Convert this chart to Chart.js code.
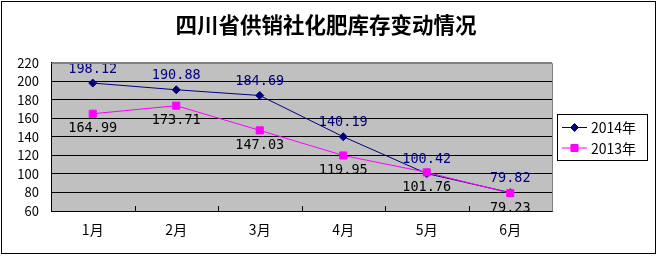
<!DOCTYPE html>
<html>
<head>
<meta charset="utf-8">
<script src="https://cdn.jsdelivr.net/npm/chart.js@4/dist/chart.umd.min.js"></script>
<style>
  html, body { margin: 0; padding: 0; background: #fff; }
  #wrap { width: 660px; height: 257px; position: relative; }
</style>
</head>
<body>
<div id="wrap"><canvas id="c" width="660" height="257"></canvas></div>
<script>
const titleText = '四川省供销社化肥库存变动情况';
const categories = ['1月', '2月', '3月', '4月', '5月', '6月'];
const series2014 = [198.12, 190.88, 184.69, 140.19, 100.42, 79.82];
const series2013 = [164.99, 173.71, 147.03, 119.95, 101.76, 79.23];
const seriesNames = ['2014年', '2013年'];
const yMin = 60, yMax = 220, yStep = 20;

const C2014 = '#000080';
const C2013 = '#FF00FF';

const framePlugin = {
  id: 'frame',
  beforeDraw(chart) {
    const { ctx, chartArea: a } = chart;
    ctx.save();
    ctx.fillStyle = '#fff';
    ctx.fillRect(0, 0, chart.width, chart.height);
    ctx.fillStyle = '#C0C0C0';
    ctx.fillRect(a.left, a.top, a.right - a.left, a.bottom - a.top);
    ctx.restore();
  },
  afterDraw(chart) {
    const { ctx, chartArea: a } = chart;
    ctx.save();
    // outer border
    ctx.strokeStyle = '#000';
    ctx.lineWidth = 1;
    ctx.strokeRect(1.5, 1.5, 654, 252);
    // plot top/right border (gray)
    ctx.strokeStyle = '#808080';
    ctx.beginPath();
    ctx.moveTo(Math.round(a.left) + 0.5, Math.round(a.top) + 0.5);
    ctx.lineTo(Math.round(a.right) + 0.5, Math.round(a.top) + 0.5);
    ctx.lineTo(Math.round(a.right) + 0.5, Math.round(a.bottom) + 0.5);
    ctx.stroke();
    // inside tick marks on x axis between categories
    const xs = chart.scales.x;
    ctx.strokeStyle = '#000';
    ctx.beginPath();
    for (let i = 0; i < categories.length - 1; i++) {
      const x = Math.round((xs.getPixelForValue(i) + xs.getPixelForValue(i + 1)) / 2) + 0.5;
      ctx.moveTo(x, a.bottom);
      ctx.lineTo(x, a.bottom - 5);
    }
    ctx.stroke();

    // legend
    const lx = a.right + 5, lw = 90, lh = 46;
    const ly = Math.round((a.top + a.bottom) / 2) - 23;
    ctx.strokeStyle = '#000';
    ctx.strokeRect(lx + 0.5, ly + 0.5, lw, lh);
    chart.data.datasets.forEach((ds, i) => {
      const cy = ly + 13 + i * 20.5;
      ctx.strokeStyle = ds.borderColor;
      ctx.lineWidth = 1;
      ctx.beginPath();
      ctx.moveTo(lx + 5, cy + 0.5);
      ctx.lineTo(lx + 30, cy + 0.5);
      ctx.stroke();
      ctx.fillStyle = ds.borderColor;
      Chart.helpers.drawPoint(ctx, { pointStyle: ds.pointStyle, radius: ds.pointRadius, borderWidth: 1 }, lx + 17.5, cy + 0.5);
      ctx.fill();
      ctx.fillStyle = '#000';
      ctx.font = '14px "Noto Sans CJK SC"';
      ctx.textAlign = 'left';
      ctx.textBaseline = 'middle';
      ctx.fillText(ds.label, lx + 34, cy + 1);
    });
    ctx.restore();
  }
};

const labelPlugin = {
  id: 'valueLabels',
  afterDatasetsDraw(chart) {
    const { ctx, chartArea: a } = chart;
    ctx.save();
    ctx.beginPath();
    ctx.rect(a.left, a.top - 20, a.right - a.left, a.bottom - a.top + 20);
    ctx.clip();
    ctx.font = '13.5px "DejaVu Sans Mono"';
    ctx.textAlign = 'center';
    ctx.textBaseline = 'middle';
    chart.data.datasets.forEach((ds, di) => {
      const meta = chart.getDatasetMeta(di);
      meta.data.forEach((pt, i) => {
        const v = ds.data[i].toFixed(2);
        if (di === 0) {
          ctx.fillStyle = C2014;
          ctx.fillText(v, pt.x, pt.y - 14);
        } else {
          ctx.fillStyle = '#000';
          ctx.fillText(v, pt.x, pt.y + 15);
        }
      });
    });
    ctx.restore();
  }
};

new Chart(document.getElementById('c'), {
  type: 'line',
  data: {
    labels: categories,
    datasets: [
      {
        label: seriesNames[0],
        data: series2014,
        borderColor: C2014,
        backgroundColor: C2014,
        borderWidth: 1,
        pointStyle: 'rectRot',
        pointRadius: 4,
        pointBorderWidth: 1,
        tension: 0,
        order: 1
      },
      {
        label: seriesNames[1],
        data: series2013,
        borderColor: C2013,
        backgroundColor: C2013,
        borderWidth: 1,
        pointStyle: 'rect',
        pointRadius: 5,
        pointBorderWidth: 1,
        tension: 0,
        order: 0
      }
    ]
  },
  options: {
    responsive: false,
    animation: false,
    devicePixelRatio: 1,
    layout: { padding: { left: 2, right: 10, top: 2, bottom: 2 } },
    plugins: {
      legend: { display: false },
      tooltip: { enabled: false },
      title: {
        display: true,
        text: titleText,
        color: '#000',
        font: { family: '"Noto Sans CJK SC"', size: 21.5, weight: 'bold' },
        padding: { top: 10, bottom: 25 }
      }
    },
    scales: {
      x: {
        offset: true,
        grid: { display: false, drawTicks: false },
        border: { display: true, color: '#000', width: 1 },
        ticks: {
          color: '#000',
          padding: 10,
          font: { family: '"Noto Sans CJK SC"', size: 14 }
        },
        afterFit(scale) { scale.height = 44; }
      },
      y: {
        min: yMin,
        max: yMax,
        grid: {
          drawTicks: false,
          color: (c) => (c.tick && c.tick.value === yMax ? '#808080' : '#000'),
          lineWidth: 1
        },
        border: { display: true, color: '#000', width: 1 },
        ticks: {
          stepSize: yStep,
          autoSkip: false,
          maxTicksLimit: 20,
          color: '#000',
          padding: 12,
          font: { family: '"Noto Sans CJK SC"', size: 13 }
        },
        afterFit(scale) { scale.width = 49; }
      },
      legendSpace: {
        type: 'linear',
        position: 'right',
        min: yMin,
        max: yMax,
        grid: { display: false, drawTicks: false },
        border: { display: false },
        ticks: { display: false },
        afterFit(scale) { scale.width = 98; }
      }
    }
  },
  plugins: [framePlugin, labelPlugin]
});
</script>
</body>
</html>
